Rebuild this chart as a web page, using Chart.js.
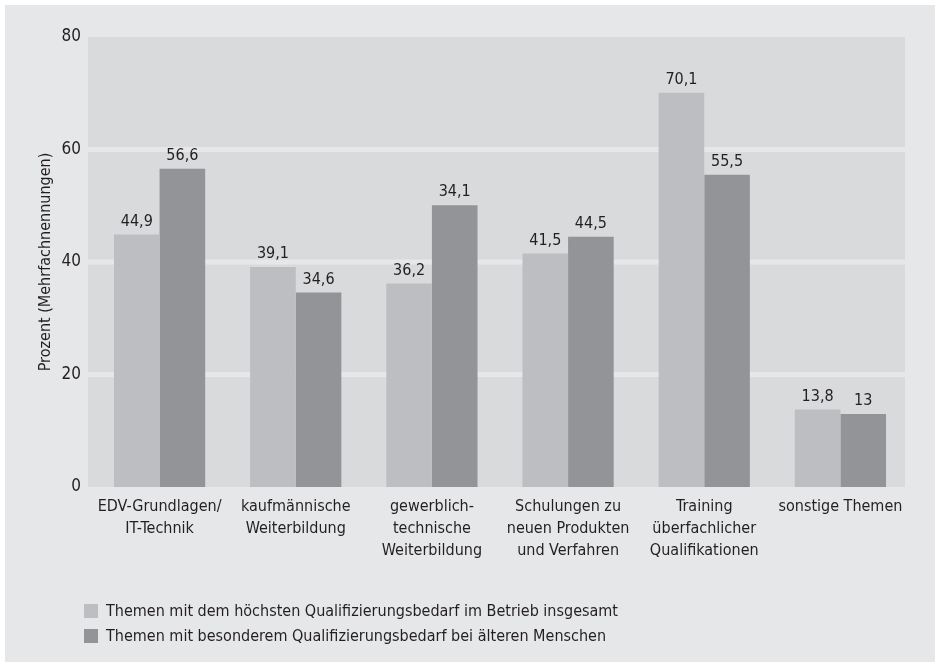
<!DOCTYPE html>
<html>
<head>
<meta charset="utf-8">
<script src="https://cdn.jsdelivr.net/npm/chart.js@4"></script>
<style>
  body { margin: 0; background: #ffffff; }
  #wrap { position: relative; width: 940px; height: 667px; }
  #qualiChart { position: absolute; left: 0; top: 0; }
  #legend { position: absolute; left: 84px; top: 598px; font-family: 'Liberation Sans Narrow', 'DejaVu Sans Condensed', sans-serif; font-size: 16px; color: #231f20; }
  .leg-item { display: flex; align-items: center; height: 25px; }
  .leg-box { width: 14px; height: 14px; margin-right: 8px; }
</style>
</head>
<body>
<div id="wrap">
  <canvas id="qualiChart" width="940" height="667"></canvas>
  <div id="legend"></div>
</div>
<script>
const categories = [
    ['EDV-Grundlagen/', 'IT-Technik'],
    ['kaufmännische', 'Weiterbildung'],
    ['gewerblich-', 'technische', 'Weiterbildung'],
    ['Schulungen zu', 'neuen Produkten', 'und Verfahren'],
    ['Training', 'überfachlicher', 'Qualifikationen'],
    ['sonstige Themen']
];
const totalValues = [44.9, 39.1, 36.2, 41.5, 70.1, 13.8];
const olderValues = [56.6, 34.6, 50.1, 44.5, 55.5, 13.0];
// value labels as printed in the original (third dark bar is labelled 34,1)
const totalLabels = ['44,9', '39,1', '36,2', '41,5', '70,1', '13,8'];
const olderLabels = ['56,6', '34,6', '34,1', '44,5', '55,5', '13'];
const seriesNames = [
    'Themen mit dem höchsten Qualifizierungsbedarf im Betrieb insgesamt',
    'Themen mit besonderem Qualifizierungsbedarf bei älteren Menschen'
];
const yTicks = [0, 20, 40, 60, 80];

const FONT = "'Liberation Sans Narrow', 'DejaVu Sans Condensed', sans-serif";
const lightGrey = '#bdbec1';
const darkGrey = '#939498';
const panelColor = '#e6e7e9';
const plotColor = '#d9dadc';
const textColor = '#231f20';
// bars in the original sit a little right of the plot centre
const plotShift = 3.5;

// panel + plot background, with the light grid bands
const backgroundPlugin = {
    id: 'backgrounds',
    beforeDraw(chart) {
        const ctx = chart.ctx;
        const a = chart.chartArea;
        const yScale = chart.scales.y;
        const left = a.left - plotShift;
        const w = a.right - a.left;
        ctx.save();
        ctx.fillStyle = '#ffffff';
        ctx.fillRect(0, 0, chart.width, chart.height);
        ctx.fillStyle = panelColor;
        ctx.fillRect(5, 5, 930, 657);
        ctx.fillStyle = plotColor;
        ctx.fillRect(left, a.top, w, a.bottom - a.top);
        ctx.fillStyle = panelColor;
        yTicks.slice(1, -1).forEach(v => {
            const y = yScale.getPixelForValue(v);
            ctx.fillRect(left, y - 2.5, w, 5);
        });
        ctx.restore();
    }
};

// numbers on top of the bars
const valueLabelPlugin = {
    id: 'valueLabels',
    afterDatasetsDraw(chart) {
        const ctx = chart.ctx;
        ctx.save();
        ctx.font = '16px ' + FONT;
        ctx.fillStyle = textColor;
        ctx.textAlign = 'center';
        ctx.textBaseline = 'bottom';
        chart.data.datasets.forEach((ds, i) => {
            chart.getDatasetMeta(i).data.forEach((bar, j) => {
                ctx.fillText(ds.valueLabels[j], bar.x, bar.y - 5);
            });
        });
        ctx.restore();
    }
};

const ctx = document.getElementById('qualiChart').getContext('2d');
const qualiChart = new Chart(ctx, {
    type: 'bar',
    data: {
        labels: categories,
        datasets: [{
            label: seriesNames[0],
            data: totalValues,
            valueLabels: totalLabels,
            backgroundColor: lightGrey
        }, {
            label: seriesNames[1],
            data: olderValues,
            valueLabels: olderLabels,
            backgroundColor: darkGrey
        }]
    },
    options: {
        responsive: false,
        animation: false,
        layout: { padding: { left: 36, right: 35 - plotShift, top: 37, bottom: 0 } },
        datasets: { bar: { categoryPercentage: 0.67, barPercentage: 1.0 } },
        plugins: {
            legend: { display: false },
            tooltip: { enabled: false }
        },
        scales: {
            x: {
                grid: { display: false, drawTicks: false },
                border: { display: false },
                afterFit: (axis) => { axis.height = 180; },
                ticks: {
                    padding: 9,
                    color: textColor,
                    font: { family: FONT, size: 16, lineHeight: 1.375 },
                    maxRotation: 0,
                    autoSkip: false
                }
            },
            y: {
                min: 0,
                max: 80,
                afterFit: (axis) => { axis.width = 52 + plotShift; },
                afterBuildTicks: (axis) => { axis.ticks = yTicks.map(v => ({ value: v })); },
                border: { display: false },
                grid: { display: false, drawTicks: false },
                ticks: {
                    padding: 7 + plotShift,
                    color: textColor,
                    font: { family: FONT, size: 17 }
                },
                title: {
                    display: true,
                    text: 'Prozent (Mehrfachnennungen)',
                    color: textColor,
                    font: { family: FONT, size: 16 },
                    padding: { top: 0, bottom: 0 }
                }
            }
        }
    },
    plugins: [backgroundPlugin, valueLabelPlugin]
});

// legend as two stacked rows, like the original
const legendEl = document.getElementById('legend');
qualiChart.data.datasets.forEach(ds => {
    const row = document.createElement('div');
    row.className = 'leg-item';
    const box = document.createElement('span');
    box.className = 'leg-box';
    box.style.background = ds.backgroundColor;
    const txt = document.createElement('span');
    txt.textContent = ds.label;
    row.appendChild(box);
    row.appendChild(txt);
    legendEl.appendChild(row);
});
</script>
</body>
</html>
